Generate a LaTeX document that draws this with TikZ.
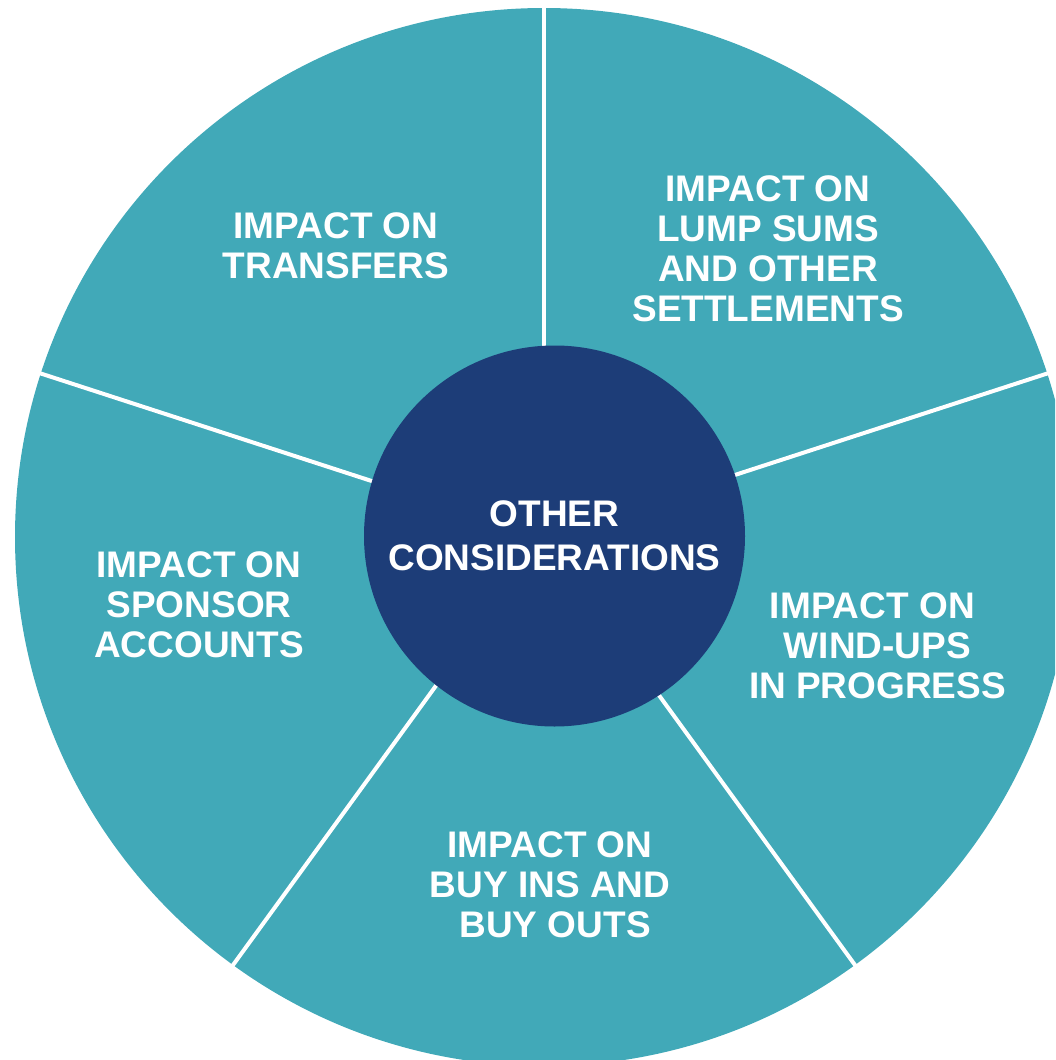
\documentclass[tikz,border=0pt]{standalone}
\usepackage{fontspec}
\setmainfont{Liberation Sans}
\usepackage{xcolor}
\definecolor{tealfill}{RGB}{65,169,184}
\definecolor{navyfill}{RGB}{29,61,120}

\begin{document}
\begin{tikzpicture}[x=1pt, y=1pt,
    impact/.style={align=center, text=white, inner sep=0pt,
      font=\bfseries\fontsize{37}{40}\selectfont},
    divider/.style={line width=4pt, color=white}]
      % \draw[line width=0.1mm, color=black] (0,0) grid (1055,-1060);
      \useasboundingbox (0, 0) rectangle (1055, -1060);
      \clip (0, 0) rectangle (1055, -1060);

      \coordinate (o) at (544, -537);
      \fill[tealfill] (o) circle (529);
      \foreach \a in {90, 18, -54, -126, 162}
        \draw[divider] (o) -- ++(\a:600);

      \node[circle, fill=navyfill, minimum size=381, inner sep=0pt,
        impact, font=\bfseries\fontsize{37}{43.8}\selectfont]
        (hub) at (554.5, -536) {OTHER\\CONSIDERATIONS};

      \node[impact] (transfers) at (336, -246) {IMPACT ON\\TRANSFERS};
      \node[impact] (lumpsums) at (768, -249) {IMPACT ON\\LUMP SUMS\\AND OTHER\\SETTLEMENTS};
      \node[impact] (windups) at (877.5, -646) {IMPACT ON\hphantom{\ }\\WIND-UPS\\IN PROGRESS};
      \node[impact] (buyins) at (550, -884.5) {IMPACT ON\\BUY INS AND\\\ BUY OUTS};
      \node[impact] (sponsor) at (199, -605) {IMPACT ON\\SPONSOR\\ACCOUNTS};

      \end{tikzpicture}
\end{document}
